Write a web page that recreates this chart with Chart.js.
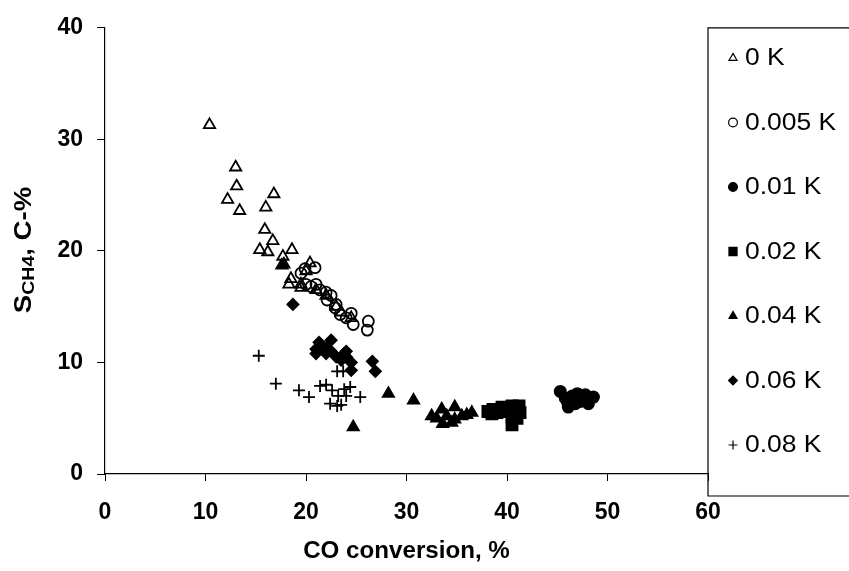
<!DOCTYPE html>
<html>
<head>
<meta charset="utf-8">
<script src="https://cdn.jsdelivr.net/npm/chart.js@4.4.1/dist/chart.umd.min.js"></script>
<style>
  html, body { margin: 0; padding: 0; background: #fff; }
  #wrap { width: 849px; height: 571px; }
</style>
</head>
<body>
<div id="wrap"><canvas id="c" width="849" height="571"></canvas></div>
<script>
// Series names (potassium loading)
const seriesNames = ['0 K', '0.005 K', '0.01 K', '0.02 K', '0.04 K', '0.06 K', '0.08 K'];

// [CO conversion %, CH4 selectivity C-%]
const k000 = [[10.4,31.3],[12.2,24.6],[13,27.5],[13.1,25.8],[13.4,23.6],[15.4,20.1],[16,23.9],[15.9,21.9],[16.7,20.9],[16.8,25.1],
  [16.2,19.9],[17.7,19.5],[17.6,18.7],[18.6,20.1],[18.5,17.5],[19.5,17],[20,18.2],[20.4,18.9],[18.3,17],
  [21,16.5],[22,16],[23,15],[23.5,14.5],[24.5,14],[19.5,16.7]];
const k005 = [[19.9,18.4],[19.5,18],[20,17],[20.5,16.8],[20.9,18.5],[21.4,16.5],[22.1,15.6],[22.5,16],[22.9,14.9],[23.4,14.3],
  [24,14],[24.5,14.4],[24.7,13.4],[26.2,13.7],[26.1,12.9],[21,17],[22,16.3],[23,15.2]];
const k010 = [[45.3,7.4],[46,6.5],[46.5,7],[47,7.2],[47.5,6.8],[48,6.6],[48.6,6.9],[46.1,6],[46.8,6.3],[47.3,6.5],
  [45.8,6.8],[47.8,7.1],[48.1,6.3]];
const k020 = [[38.1,5.6],[38.6,5.8],[39,5.5],[39.5,6],[40,5.8],[40.5,6.1],[41.2,6.1],[41.3,5.5],[40.5,5.1],[40.5,4.4],
  [41,5],[39.5,5.6],[38.5,5.4]];
const k040 = [[24.7,4.2],[28.2,7.2],[30.7,6.6],[32.5,5.2],[33,5],[33.5,5.8],[34,5.2],[34.5,4.6],[34.8,6],[35.5,5.2],
  [36,5.3],[36.5,5.5],[33.6,4.5],[34.8,4.9],[17.8,18.8]];
const k060 = [[18.7,15.2],[21,11.2],[21,10.8],[21.5,11.5],[22,11.3],[22.5,12],[22,10.8],[23,10.5],[23.5,10.2],[24,11],
  [24,10.5],[24.5,10],[24.5,9.3],[22.5,11],[21.3,11.8],[26.6,10.1],[26.9,9.2],[23.8,10.8]];
const k080 = [[15.3,10.6],[17,8.1],[19.3,7.5],[20.3,6.9],[21.4,7.9],[22.6,7.5],[22.4,6.3],[23.1,6.1],[23.5,6.2],[23.2,7],
  [24,7],[24.4,7.8],[25.4,6.9],[23.1,9.2],[23.7,9.2],[22,8],[23.8,7.6]];

const xTicks = [0, 10, 20, 30, 40, 50, 60];
const yTicks = [0, 10, 20, 30, 40];

const seriesData = [k000, k005, k010, k020, k040, k060, k080];
const styles = [
  { pointStyle: 'triangle', fill: false, radius: 6.5, legendRadius: 4.6 },
  { pointStyle: 'circle',   fill: false, radius: 5.5, legendRadius: 4.4 },
  { pointStyle: 'circle',   fill: true,  radius: 5.6, legendRadius: 4.4 },
  { pointStyle: 'rect',     fill: true,  radius: 7.8, legendRadius: 5.7 },
  { pointStyle: 'triangle', fill: true,  radius: 6.5, legendRadius: 4.6 },
  { pointStyle: 'rectRot',  fill: true,  radius: 5.6, legendRadius: 4.4 },
  { pointStyle: 'cross',    fill: false, radius: 6,   legendRadius: 4.4 }
];

const datasets = seriesData.map((pts, i) => ({
  label: seriesNames[i],
  data: pts.map(p => ({ x: p[0], y: p[1] })),
  pointStyle: styles[i].pointStyle,
  pointRadius: styles[i].radius,
  pointHoverRadius: styles[i].radius,
  pointBorderWidth: 1.8,
  pointBorderColor: '#000',
  pointBackgroundColor: styles[i].fill ? '#000' : 'rgba(0,0,0,0)',
  showLine: false
}));

const FONT = '"Liberation Sans", Arial, sans-serif';

// draw text stretched slightly along its run direction
function wideText(ctx, text, x, y, stretch) {
  ctx.save();
  ctx.translate(x, y);
  ctx.scale(stretch, 1);
  ctx.fillText(text, 0, 0);
  ctx.restore();
}

// Axis titles (with CH4 subscript) and the boxed legend on the right
const decorations = {
  id: 'decorations',
  afterDraw(chart) {
    const ctx = chart.ctx;
    const area = chart.chartArea;
    ctx.save();
    ctx.fillStyle = '#000';

    // x title
    ctx.font = 'bold 23px ' + FONT;
    ctx.textAlign = 'center';
    ctx.textBaseline = 'middle';
    wideText(ctx, 'CO conversion, %', (area.left + area.right) / 2, 552, 1.05);

    // y title, rotated
    const stretch = 1.15;
    ctx.save();
    ctx.translate(24, 250);
    ctx.rotate(-Math.PI / 2);
    const parts = [
      { t: 'S', f: 'bold 24px ' + FONT, dy: 0 },
      { t: 'CH4', f: 'bold 17px ' + FONT, dy: 5 },
      { t: ', C-%', f: 'bold 24px ' + FONT, dy: 0 }
    ];
    let total = 0;
    parts.forEach(p => { ctx.font = p.f; total += ctx.measureText(p.t).width * stretch; });
    let x = -total / 2;
    ctx.textAlign = 'left';
    ctx.textBaseline = 'middle';
    parts.forEach(p => {
      ctx.font = p.f;
      wideText(ctx, p.t, x, p.dy, stretch);
      x += ctx.measureText(p.t).width * stretch;
    });
    ctx.restore();

    // legend box
    const lx = area.right;
    ctx.strokeStyle = '#000';
    ctx.lineWidth = 1.2;
    ctx.beginPath();
    ctx.moveTo(860, area.top);
    ctx.lineTo(lx, area.top);
    ctx.lineTo(lx, 496);
    ctx.lineTo(860, 496);
    ctx.stroke();

    chart.data.datasets.forEach((ds, i) => {
      const y = 58 + i * 64.5;
      ctx.strokeStyle = '#000';
      ctx.fillStyle = ds.pointBackgroundColor;
      Chart.helpers.drawPoint(ctx, {
        pointStyle: ds.pointStyle,
        radius: styles[i].legendRadius,
        rotation: 0,
        borderWidth: 1.3
      }, 733, y);
      ctx.fillStyle = '#000';
      ctx.font = '23px ' + FONT;
      ctx.textAlign = 'left';
      ctx.textBaseline = 'middle';
      wideText(ctx, ds.label, 745, y + 1, 1.15);
    });
    ctx.restore();
  }
};

new Chart(document.getElementById('c'), {
  type: 'scatter',
  data: { datasets },
  plugins: [decorations],
  options: {
    responsive: false,
    animation: false,
    events: [],
    layout: { padding: { top: 24, right: 141, left: 0, bottom: 0 } },
    plugins: { legend: { display: false }, tooltip: { enabled: false } },
    scales: {
      x: {
        type: 'linear', min: 0, max: 60,
        afterBuildTicks: s => { s.ticks = xTicks.map(v => ({ value: v })); },
        afterFit: s => { s.height = 97; },
        grid: { drawOnChartArea: false, tickLength: 7, color: '#000', lineWidth: 1 },
        border: { color: '#000', width: 1.2 },
        ticks: { color: '#000', font: { family: FONT, size: 23, weight: 'bold' }, padding: 18, maxRotation: 0 }
      },
      y: {
        type: 'linear', min: 0, max: 40,
        afterBuildTicks: s => { s.ticks = yTicks.map(v => ({ value: v })); },
        afterFit: s => { s.width = 105; },
        grid: { drawOnChartArea: false, tickLength: 8, color: '#000', lineWidth: 1 },
        border: { color: '#000', width: 1.2 },
        ticks: { color: '#000', font: { family: FONT, size: 23, weight: 'bold' }, padding: 14 }
      }
    }
  }
});
</script>
</body>
</html>
